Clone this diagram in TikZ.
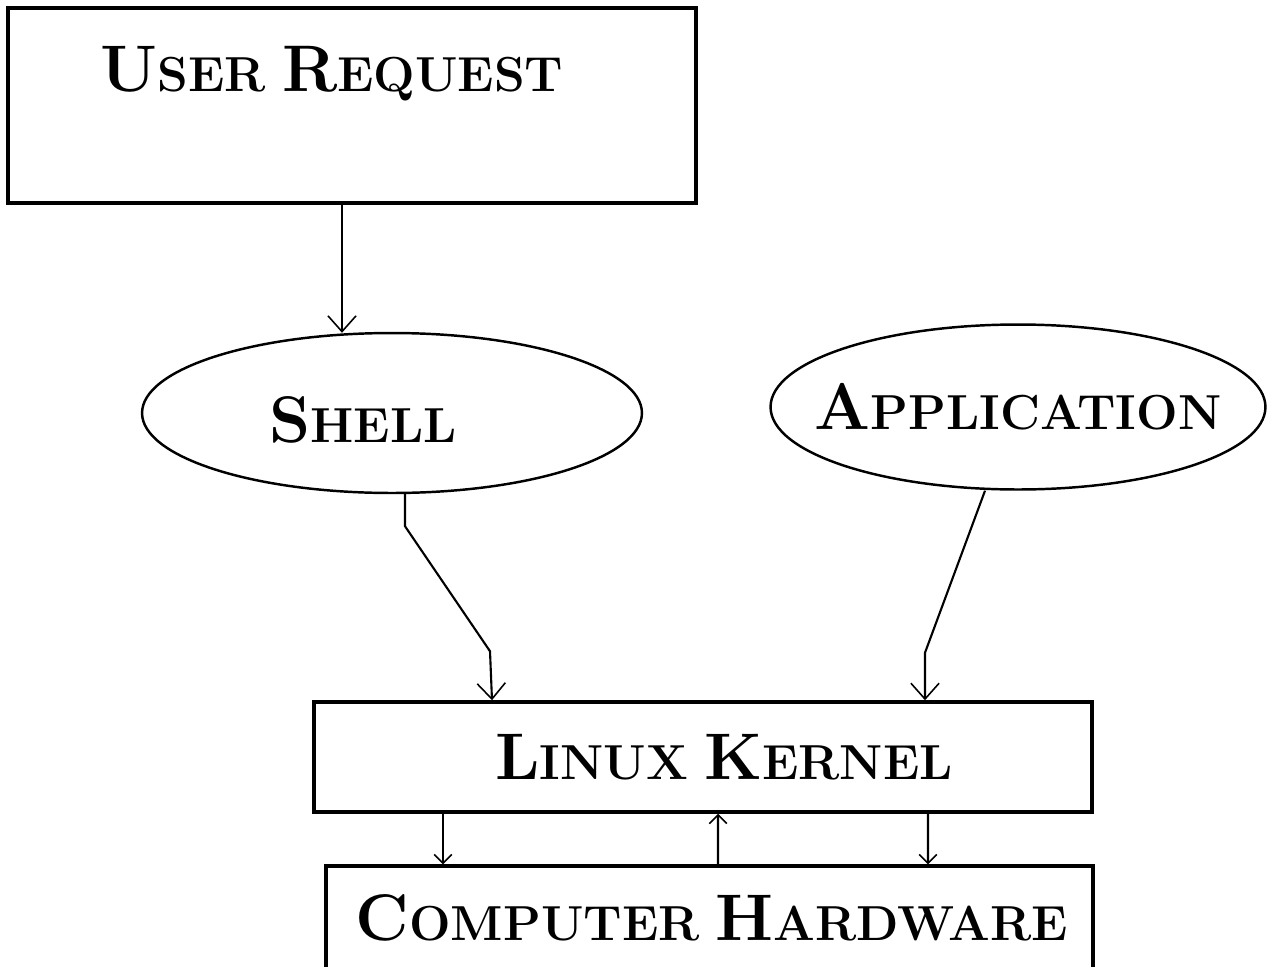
\documentclass[tikz,border=0pt]{standalone}
\usepackage{tikz}
\usetikzlibrary{arrows.meta,shapes,positioning,calc}

\newcommand{\capword}[2]{{\fontsize{37.5}{42}\selectfont #1}{\fontsize{28}{32}\selectfont #2}}

\begin{document}
\begin{tikzpicture}[x=0.02cm,y=-0.02cm]
                \tikzstyle{every node}+=[inner sep=0pt]
                \tikzstyle{box}=[draw, line width=2pt, rectangle]
                \tikzstyle{blob}=[draw, line width=1.4pt, ellipse]
                \tikzstyle{word}=[font=\bfseries]
                \tikzstyle{link}=[line width=1.2pt, -{Straight Barb[length=9pt,width=16pt,line width=0.9pt]}]
                \tikzstyle{short}=[line width=1.2pt, -{Straight Barb[length=5pt,width=10pt,line width=0.9pt]}]
                \useasboundingbox (0,0) rectangle (1268,967);
                % boxes and ellipses
                \node [box, minimum width=13.76cm, minimum height=3.9cm,
                       label={[word, anchor=center, xshift=-0.4cm, yshift=-1.34cm]north:\capword{U}{SER}\hspace{0.32cm}\capword{R}{EQUEST}}]
                      (user) at (352,105.5) {};
                \node [blob, minimum width=10cm, minimum height=3.2cm,
                       label={[word, anchor=center, xshift=-0.58cm, yshift=-0.14cm]center:\capword{S}{HELL}}]
                      (shell) at (392,413) {};
                \node [blob, minimum width=9.9cm, minimum height=3.3cm,
                       label={[word, anchor=center]center:\capword{A}{PPLICATION}}]
                      (app) at (1018,407) {};
                \node [box, minimum width=15.56cm, minimum height=2.2cm,
                       label={[word, anchor=center, xshift=0.42cm]center:\capword{L}{INUX}\hspace{0.32cm}\capword{K}{ERNEL}}]
                      (kernel) at (703,757) {};
                \node [box, minimum width=15.34cm, minimum height=3cm,
                       label={[word, anchor=center, yshift=0.46cm, xshift=0.05cm]center:\capword{C}{OMPUTER}\hspace{0.32cm}\capword{H}{ARDWARE}}]
                      (hw) at (709.5,941) {};
                % connectors
                \draw [link] ($(user.south)+(-10,0)$) -- ($(shell.north)+(-50,1)$);
                \draw [link] ($(shell.south)+(13,0)$) -- ++(0,32) -- ++(85,125) -- ($(kernel.north)+(-211,0)$);
                \draw [link] ($(app.south)+(-33,0)$) -- ++(-60,162) -- ($(kernel.north)+(222,0)$);
                \draw [short] ($(kernel.south)+(-260,0)$) -- ($(hw.north)+(-266.5,0)$);
                \draw [short] ($(hw.north)+(8.5,0)$) -- ($(kernel.south)+(15,0)$);
                \draw [short] ($(kernel.south)+(225,0)$) -- ($(hw.north)+(218.5,0)$);
            \end{tikzpicture}
\end{document}
